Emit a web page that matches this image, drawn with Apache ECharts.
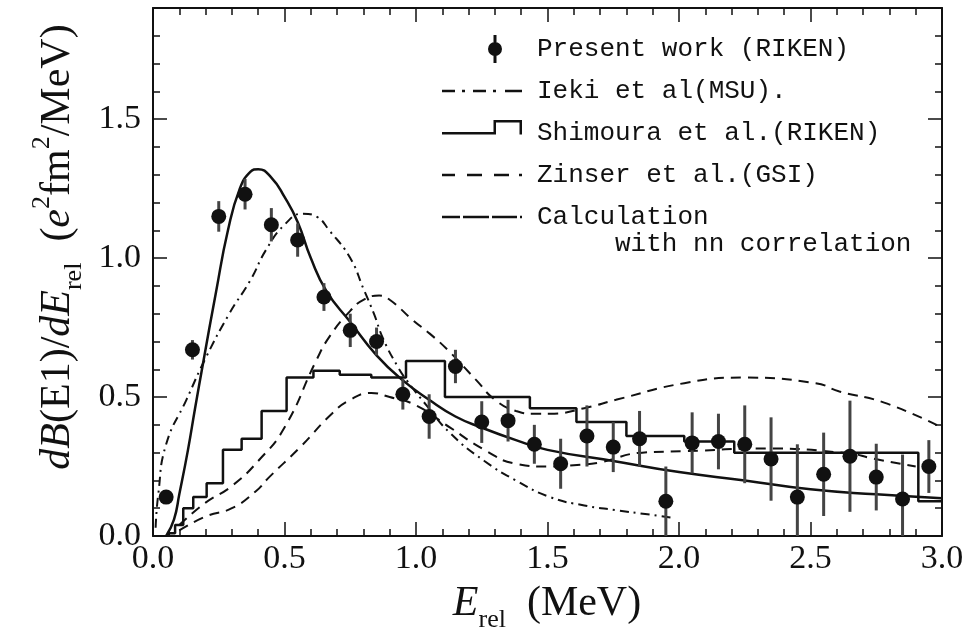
<!DOCTYPE html>
<html>
<head>
<meta charset="utf-8">
<script src="https://cdn.jsdelivr.net/npm/echarts@6/dist/echarts.min.js"></script>
<style>
  html, body { margin: 0; padding: 0; background: #fff; }
  #main { width: 972px; height: 639px; }
</style>
</head>
<body>
<div id="main"></div>
<script>
// present work (RIKEN) data points
var ptX = [0.05,0.15,0.25,0.35,0.45,0.55,0.65,0.75,0.85,0.95,1.05,1.15,1.25,1.35,1.45,1.55,1.65,1.75,1.85,1.95,2.05,2.15,2.25,2.35,2.45,2.55,2.65,2.75,2.85,2.95];
var ptY = [0.14,0.67,1.15,1.23,1.12,1.065,0.86,0.74,0.70,0.51,0.43,0.61,0.41,0.415,0.33,0.26,0.36,0.32,0.35,0.125,0.335,0.34,0.33,0.277,0.14,0.222,0.287,0.212,0.133,0.25];
var ptErr = [0.02,0.035,0.055,0.055,0.06,0.06,0.05,0.06,0.05,0.055,0.08,0.06,0.075,0.075,0.07,0.09,0.11,0.09,0.10,0.125,0.11,0.10,0.14,0.15,0.19,0.15,0.2,0.12,0.16,0.095];

// Ieki et al (MSU), dash-dot
var iekiX = [0.01,0.02,0.05,0.127,0.2,0.29,0.37,0.43,0.5,0.57,0.62,0.67,0.75,0.8,0.84,0.875,0.93,0.965,1.04,1.13,1.26,1.38,1.51,1.64,1.76,1.88,1.98];
var iekiY = [0.03,0.15,0.33,0.49,0.64,0.80,0.92,1.03,1.12,1.16,1.15,1.10,1.0,0.89,0.80,0.71,0.61,0.56,0.47,0.37,0.27,0.20,0.14,0.11,0.093,0.078,0.065];

// Shimoura et al (RIKEN), histogram bin edges and heights
var histEdges = [0.06,0.084,0.115,0.153,0.204,0.266,0.337,0.413,0.508,0.61,0.71,0.83,0.962,1.11,1.433,1.61,1.80,2.02,2.21,2.91,3.0];
var histVals = [0.01,0.04,0.10,0.14,0.19,0.31,0.35,0.45,0.57,0.595,0.58,0.57,0.63,0.50,0.46,0.41,0.36,0.34,0.30,0.125];

// Zinser et al (GSI), two dashed curves
var zinAX = [0.1,0.2,0.3,0.4,0.5,0.62,0.673,0.75,0.8,0.86,0.9,0.99,1.05,1.12,1.23,1.3,1.38,1.45,1.51,1.64,1.76,2.02,2.24,2.52,2.61,2.78,3.0];
var zinAY = [0.04,0.12,0.18,0.27,0.39,0.63,0.72,0.81,0.85,0.865,0.85,0.775,0.73,0.67,0.56,0.49,0.45,0.44,0.44,0.46,0.49,0.55,0.57,0.55,0.52,0.48,0.39];
var zinBX = [0.1,0.2,0.3,0.39,0.44,0.56,0.68,0.75,0.83,0.9,1.0,1.13,1.26,1.38,1.5,1.6,1.7,1.86,2.02,2.33,2.65,2.73,2.9];
var zinBY = [0.02,0.07,0.10,0.16,0.21,0.32,0.44,0.49,0.515,0.50,0.47,0.39,0.31,0.26,0.25,0.255,0.265,0.30,0.305,0.315,0.297,0.28,0.25];

// calculation with nn correlation
var calcX = [0.05,0.08,0.1,0.133,0.16,0.19,0.24,0.285,0.33,0.37,0.40,0.45,0.5,0.55,0.6,0.66,0.75,0.85,0.95,1.05,1.15,1.25,1.38,1.5,1.75,2.0,2.25,2.5,2.75,3.0];
var calcY = [0,0.06,0.15,0.31,0.46,0.62,0.88,1.10,1.25,1.31,1.32,1.29,1.22,1.13,1.0,0.88,0.77,0.65,0.56,0.49,0.43,0.39,0.345,0.31,0.27,0.23,0.2,0.168,0.15,0.136];

var xTicks = [0, 3.0, 0.5];    // min, max, step
var yTicks = [0, 1.9, 0.5];

function pairs(xs, ys) {
    return xs.map(function (x, i) { return [x, ys[i]]; });
}
var histData = [[histEdges[0], 0]];
for (var i = 0; i < histVals.length; i++) histData.push([histEdges[i], histVals[i]]);
histData.push([histEdges[histEdges.length - 1], histVals[histVals.length - 1]]);

var errData = ptX.map(function (x, i) { return [x, ptY[i], ptErr[i]]; });

var INK = '#111';
var serif = 'Liberation Serif';

function xAxisOpt(pos, labels) {
    return {
        type: 'value', position: pos, min: xTicks[0], max: xTicks[1], interval: xTicks[2],
        axisLine: { show: true, onZero: false, lineStyle: { color: INK, width: 2 } },
        axisTick: { show: true, inside: true, length: 14, lineStyle: { color: INK, width: 1.5 } },
        minorTick: { show: true, splitNumber: 5, length: 7, lineStyle: { color: INK, width: 1.5 } },
        splitLine: { show: false },
        axisLabel: { show: labels, margin: 6, color: INK, fontFamily: serif, fontSize: 34,
            formatter: function (v) { return v.toFixed(1); } }
    };
}
function yAxisOpt(pos, step, len, labels, line) {
    return {
        type: 'value', position: pos, min: yTicks[0], max: yTicks[1], interval: step,
        axisLine: { show: line, onZero: false, lineStyle: { color: INK, width: 2 } },
        axisTick: { show: true, inside: true, length: len, lineStyle: { color: INK, width: 1.5 } },
        splitLine: { show: false },
        axisLabel: { show: labels, margin: 12, color: INK, fontFamily: serif, fontSize: 34,
            formatter: function (v) { return v > 1.6 ? '' : v.toFixed(1); } }
    };
}

var myChart = echarts.init(document.getElementById('main'));
var option = {
    animation: false,
    backgroundColor: '#fff',
    grid: { left: 153, right: 30, top: 8, bottom: 103, outerBoundsMode: 'none' },
    xAxis: [xAxisOpt('bottom', true), xAxisOpt('top', false)],
    yAxis: [
        yAxisOpt('left', yTicks[2], 14, true, true),
        yAxisOpt('left', 0.1, 7, false, false),
        yAxisOpt('right', yTicks[2], 14, false, true),
        yAxisOpt('right', 0.1, 7, false, false)
    ],
    legend: {
        orient: 'vertical', left: 442, top: 35, padding: 0,
        itemWidth: 80, itemHeight: 28, itemGap: 14, selectedMode: false,
        itemStyle: { color: INK, borderWidth: 0, opacity: 1 },
        textStyle: { fontFamily: 'Liberation Mono', fontSize: 26, color: INK, lineHeight: 28, padding: [0, 0, 0, 10] },
        data: [
            { name: 'Present work (RIKEN)', icon: 'path://M0,14L0,14M80,14L80,14M51.5,0h3v28h-3zM46,14a7,7 0 1,1 14,0a7,7 0 1,1 -14,0z' },
            { name: 'Ieki et al(MSU).', icon: 'path://M0,0h13v2.5h-13zM20,0h3v2.5h-3zM31,0h13v2.5h-13zM51,0h3v2.5h-3zM63,0h17v2.5h-17z' },
            { name: 'Shimoura et al.(RIKEN)', icon: 'path://M0,26L0,26M0,12h54v2.5h-54zM51.5,0h2.5v14.5h-2.5zM51.5,0h28.5v2.5h-28.5zM77.5,0h2.5v14.5h-2.5z' },
            { name: 'Zinser et al.(GSI)', icon: 'path://M0,0h13v2.5h-13zM25,0h15v2.5h-15zM52,0h15v2.5h-15zM77,0h3v2.5h-3z' },
            { name: 'Calculation', icon: 'path://M0,0h18v2.5h-18zM21,0h26v2.5h-26zM50,0h25v2.5h-25zM78,0h2v2.5h-2z' }
        ]
    },
    graphic: [
        { type: 'text', left: 537, top: 231, style: { text: '     with nn correlation', font: '26px "Liberation Mono"', fill: INK } },
        {
            type: 'text', x: 547, y: 604,
            style: {
                text: '{i|E}{s|rel}{r|  (MeV)}', align: 'center', verticalAlign: 'middle',
                textAlign: 'center', textVerticalAlign: 'middle', fill: INK,
                rich: {
                    i: { fontFamily: serif, fontStyle: 'italic', fontSize: 42, lineHeight: 58, fill: INK },
                    r: { fontFamily: serif, fontSize: 42, lineHeight: 58, fill: INK },
                    s: { fontFamily: serif, fontSize: 26, lineHeight: 18, verticalAlign: 'bottom', fill: INK }
                }
            }
        },
        {
            type: 'text', x: 58, y: 247, rotation: Math.PI / 2,
            style: {
                text: '{i|dB}{r|(E1)/}{i|dE}{s|rel}{r|  (}{i|e}{p|2}{r|fm}{p|2}{r|/MeV)}',
                align: 'center', verticalAlign: 'middle',
                textAlign: 'center', textVerticalAlign: 'middle', fill: INK,
                rich: {
                    i: { fontFamily: serif, fontStyle: 'italic', fontSize: 42, lineHeight: 58, fill: INK },
                    r: { fontFamily: serif, fontSize: 42, lineHeight: 58, fill: INK },
                    s: { fontFamily: serif, fontSize: 26, lineHeight: 18, verticalAlign: 'bottom', fill: INK },
                    p: { fontFamily: serif, fontSize: 26, lineHeight: 26, verticalAlign: 'top', fill: INK }
                }
            }
        }
    ],
    series: [
        {
            name: 'Ieki et al(MSU).', type: 'line', data: pairs(iekiX, iekiY), smooth: true,
            showSymbol: false, symbol: 'none', itemStyle: { color: INK },
            lineStyle: { color: INK, width: 2, type: [9, 5, 2, 5] }, z: 2
        },
        {
            name: 'Shimoura et al.(RIKEN)', type: 'line', data: histData, step: 'end',
            showSymbol: false, symbol: 'none', itemStyle: { color: INK },
            lineStyle: { color: INK, width: 2.5 }, z: 2
        },
        {
            name: 'Zinser et al.(GSI)', type: 'line', data: pairs(zinAX, zinAY), smooth: true,
            showSymbol: false, symbol: 'none', itemStyle: { color: INK },
            lineStyle: { color: INK, width: 2, type: [10, 7] }, z: 2
        },
        {
            name: 'Zinser et al.(GSI)', type: 'line', data: pairs(zinBX, zinBY), smooth: true,
            showSymbol: false, symbol: 'none', itemStyle: { color: INK },
            lineStyle: { color: INK, width: 2, type: [10, 7] }, z: 2
        },
        {
            name: 'Calculation', type: 'line', data: pairs(calcX, calcY), smooth: true,
            showSymbol: false, symbol: 'none', itemStyle: { color: INK },
            lineStyle: { color: INK, width: 2.5 }, z: 3
        },
        {
            name: 'errors', type: 'custom', data: errData, clip: true, z: 4,
            encode: { x: 0, y: 1 },
            renderItem: function (params, api) {
                var x = api.value(0), y = api.value(1), e = api.value(2);
                var top = api.coord([x, y + e]);
                var bot = api.coord([x, Math.max(y - e, 0)]);
                return {
                    type: 'line',
                    shape: { x1: top[0], y1: top[1], x2: bot[0], y2: bot[1] },
                    style: { stroke: '#444', lineWidth: 3 }
                };
            }
        },
        {
            name: 'Present work (RIKEN)', type: 'scatter', data: pairs(ptX, ptY),
            symbol: 'circle', symbolSize: 15, itemStyle: { color: INK, opacity: 1 }, z: 5
        }
    ]
};
myChart.setOption(option);
</script>
</body>
</html>
